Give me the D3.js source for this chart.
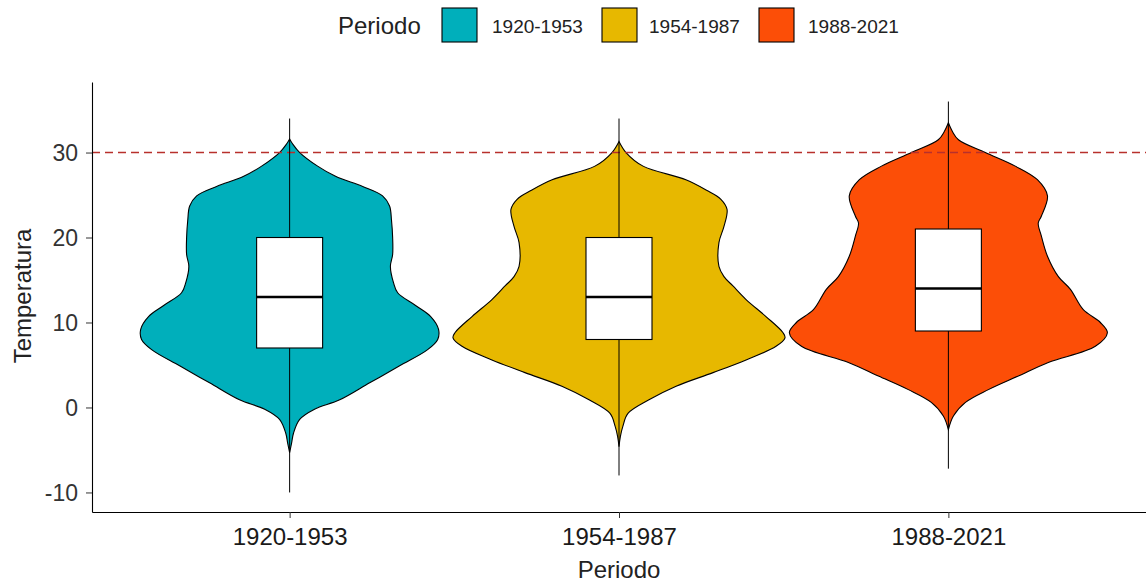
<!DOCTYPE html>
<html>
<head>
<meta charset="utf-8">
<script src="https://cdn.jsdelivr.net/npm/d3@7"></script>
<style>
  body { margin: 0; background: #fff; }
  text { font-family: "Liberation Sans", Arial, sans-serif; }
</style>
</head>
<body>
<div id="chart"></div>
<script>
// periods shown on the x axis and in the legend
var periods = ["1920-1953", "1954-1987", "1988-2021"];
var colors = ["#00AFBB", "#E7B800", "#FC4E07"];

// violin outlines: [temperature, density]
var density1920 = [[31.6,0],[31.0,.0011],[30.0,.0036],[28.4,.0100],[27.2,.0164],[26.0,.0261],[24.9,.0332],[23.7,.0357],[22.0,.0364],[20.0,.0368],[18.0,.0368],[16.6,.0360],[14.7,.0371],[13.5,.0386],[12.0,.0450],[10.7,.0504],[9.2,.0532],[8.0,.0529],[6.8,.0493],[4.9,.0393],[2.9,.0286],[0.9,.0179],[-0.2,.0089],[-1.4,.0036],[-3.0,.0014],[-4.2,.0007],[-5.3,0]];
var density1954 = [[31.3,0],[30.0,.0025],[28.4,.0086],[26.8,.0239],[25.6,.0311],[24.5,.0364],[23.3,.0386],[21.3,.0375],[19.4,.0357],[16.6,.0357],[15.4,.0375],[14.3,.0407],[12.7,.0454],[10.7,.0525],[8.8,.0586],[8.2,.0593],[7.2,.0561],[5.6,.0454],[4.1,.0336],[2.5,.0204],[0.9,.0107],[-0.7,.0032],[-2.2,.0014],[-3.4,.0005],[-4.6,0]];
var density1988 = [[33.5,0],[32.5,.0014],[31.5,.0036],[30.0,.0132],[28.4,.0239],[26.8,.0318],[24.9,.0354],[22.5,.0332],[21.7,.0321],[20.2,.0332],[17.8,.0354],[15.4,.0393],[13.9,.0436],[11.5,.0482],[10.0,.0543],[8.8,.0568],[7.2,.0525],[5.3,.0357],[3.7,.0250],[2.1,.0143],[0.6,.0061],[-1.0,.0018],[-2.6,0]];
var densities = [density1920, density1954, density1988];

// boxplot numbers: min, q1, median, q3, max
var boxMin = [-10, -8, -7.2];
var boxQ1 = [7, 8, 9];
var boxMedian = [13, 13, 14];
var boxQ3 = [20, 20, 21];
var boxMax = [34, 34, 36];

var yTicks = [-10, 0, 10, 20, 30];
var refLine = 30;

var svgWidth = 1146;
var svgHeight = 583;

var margin = { top: 82, right: 0, bottom: 71, left: 92 };

var svg = d3.select("#chart")
  .append("svg")
  .attr("width", svgWidth)
  .attr("height", svgHeight);

// scales
var xScale = d3.scalePoint()
  .domain(periods)
  .range([margin.left, svgWidth - margin.right])
  .padding(0.6);

var yScale = d3.scaleLinear()
  .domain([-12.3, 38.3])
  .range([svgHeight - margin.bottom, margin.top]);

var maxDensity = d3.max(densities, d => d3.max(d, p => p[1]));
var widthScale = d3.scaleLinear()
  .domain([0, maxDensity])
  .range([0, 166]);

// violins
densities.forEach(function(dens, i) {
  var cx = xScale(periods[i]);
  var area = d3.area()
    .y(d => yScale(d[0]))
    .x0(d => cx - widthScale(d[1]))
    .x1(d => cx + widthScale(d[1]))
    .curve(d3.curveCatmullRom);
  svg.append("path")
    .datum(dens)
    .attr("d", area)
    .attr("fill", colors[i])
    .attr("stroke", "#000")
    .attr("stroke-width", 1.1);
});

// dashed reference line at 30
svg.append("line")
  .attr("x1", margin.left)
  .attr("x2", svgWidth)
  .attr("y1", yScale(refLine))
  .attr("y2", yScale(refLine))
  .attr("stroke", "#b8302c")
  .attr("stroke-width", 1.4)
  .attr("stroke-dasharray", "8,5");

// boxplots
var boxHalf = 33;
periods.forEach(function(p, i) {
  var cx = xScale(p);
  svg.append("line")
    .attr("x1", cx).attr("x2", cx)
    .attr("y1", yScale(boxMax[i])).attr("y2", yScale(boxQ3[i]))
    .attr("stroke", "#000").attr("stroke-width", 1);
  svg.append("line")
    .attr("x1", cx).attr("x2", cx)
    .attr("y1", yScale(boxQ1[i])).attr("y2", yScale(boxMin[i]))
    .attr("stroke", "#000").attr("stroke-width", 1);
  svg.append("rect")
    .attr("x", cx - boxHalf)
    .attr("y", yScale(boxQ3[i]))
    .attr("width", boxHalf * 2)
    .attr("height", yScale(boxQ1[i]) - yScale(boxQ3[i]))
    .attr("fill", "#fff")
    .attr("stroke", "#000")
    .attr("stroke-width", 1.1);
  svg.append("line")
    .attr("x1", cx - boxHalf).attr("x2", cx + boxHalf)
    .attr("y1", yScale(boxMedian[i])).attr("y2", yScale(boxMedian[i]))
    .attr("stroke", "#000").attr("stroke-width", 2.6);
});

// axes
var xAxis = svg.append("g")
  .attr("transform", `translate(0, ${svgHeight - margin.bottom})`)
  .call(d3.axisBottom(xScale).tickSize(6).tickPadding(10).tickSizeOuter(0));
xAxis.select(".domain").attr("stroke", "#000").attr("stroke-width", 1.1);
xAxis.selectAll(".tick line").attr("stroke", "#333");
xAxis.selectAll(".tick text")
  .attr("font-size", 24)
  .attr("fill", "#1a1a1a")
  .attr("font-family", "Liberation Sans, Arial, sans-serif");

// plain hyphen for negatives like the original
var yAxis = svg.append("g")
  .attr("transform", `translate(${margin.left}, 0)`)
  .call(d3.axisLeft(yScale).tickValues(yTicks).tickFormat(d => String(d)).tickSize(6).tickPadding(8).tickSizeOuter(0));
yAxis.select(".domain").attr("stroke", "#000").attr("stroke-width", 1.1);
yAxis.selectAll(".tick line").attr("stroke", "#333");
yAxis.selectAll(".tick text")
  .attr("font-size", 23)
  .attr("fill", "#333")
  .attr("dy", "0.35em")
  .attr("font-family", "Liberation Sans, Arial, sans-serif");

// axis titles
svg.append("text")
  .attr("x", xScale(periods[1]))
  .attr("y", 578)
  .attr("text-anchor", "middle")
  .attr("font-size", 24)
  .attr("fill", "#222")
  .text("Periodo");

svg.append("text")
  .attr("transform", "translate(31, 296) rotate(-90)")
  .attr("text-anchor", "middle")
  .attr("font-size", 24)
  .attr("fill", "#222")
  .text("Temperatura");

// legend on top
var legend = svg.append("g");
legend.append("text")
  .attr("x", 338)
  .attr("y", 34)
  .attr("font-size", 24)
  .attr("fill", "#222")
  .text("Periodo");

var keyX = [442, 602, 759];
var labelX = [492, 649, 808];
periods.forEach(function(p, i) {
  legend.append("rect")
    .attr("x", keyX[i])
    .attr("y", 8)
    .attr("width", 35)
    .attr("height", 34)
    .attr("fill", colors[i])
    .attr("stroke", "#000")
    .attr("stroke-width", 1.1);
  legend.append("text")
    .attr("x", labelX[i])
    .attr("y", 33)
    .attr("font-size", 19)
    .attr("fill", "#222")
    .text(p);
});
</script>
</body>
</html>
